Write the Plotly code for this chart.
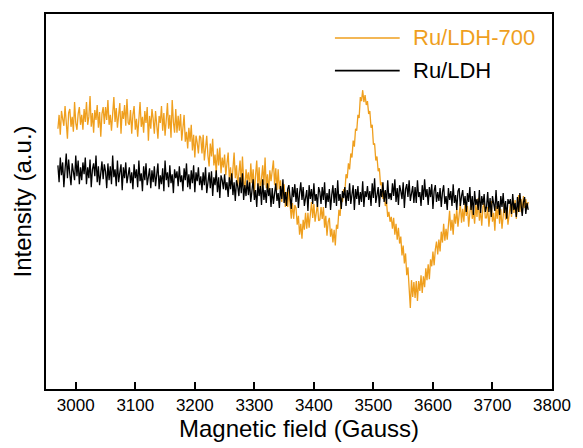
import plotly.graph_objects as go

# Field grid (Gauss): 396 samples, 2 G apart, starting at 2970 G
field_start = 2970
field_step = 2

# EPR intensity, arbitrary units (one row = 40 G)
ru_ldh_700 = [
    263, 277, 257, 281, 273, 266, 286, 268, 253, 279, 283, 265, 275, 260, 290, 269, 262, 278, 285, 267,
    277, 262, 283, 270, 290, 267, 275, 296, 265, 279, 259, 282, 272, 287, 264, 280, 255, 278, 285, 268,
    285, 272, 292, 267, 277, 261, 282, 295, 270, 284, 264, 278, 289, 258, 281, 273, 287, 266, 293, 269,
    267, 282, 258, 277, 286, 262, 273, 255, 279, 290, 265, 275, 259, 281, 269, 285, 251, 276, 263, 283,
    273, 258, 281, 265, 253, 276, 269, 286, 261, 279, 256, 272, 289, 263, 277, 254, 292, 270, 259, 283,
    259, 276, 261, 278, 251, 264, 277, 250, 260, 243, 264, 250, 267, 241, 257, 234, 256, 249, 238, 256,
    254, 238, 257, 231, 247, 256, 236, 225, 248, 235, 253, 226, 237, 218, 243, 226, 244, 218, 234, 224,
    237, 216, 228, 239, 211, 224, 206, 230, 239, 213, 226, 205, 218, 231, 207, 235, 211, 200, 222, 211,
    219, 201, 228, 208, 222, 196, 216, 231, 205, 224, 199, 214, 226, 206, 234, 203, 217, 198, 221, 210,
    223, 231, 206, 223, 201, 222, 202, 211, 189, 203, 207, 184, 199, 184, 201, 182, 172, 188, 172, 186,
    183, 166, 175, 156, 167, 152, 171, 161, 178, 162, 178, 163, 179, 189, 173, 187, 169, 179, 187, 170,
    171, 184, 172, 184, 163, 175, 155, 169, 173, 154, 162, 148, 161, 145, 166, 162, 181, 175, 193, 189,
    202, 199, 217, 213, 228, 222, 238, 234, 251, 245, 263, 261, 277, 274, 295, 291, 302, 290, 297, 287,
    291, 278, 281, 264, 267, 247, 248, 231, 235, 220, 223, 206, 209, 192, 200, 185, 189, 174, 179, 169,
    174, 162, 173, 156, 167, 151, 163, 147, 154, 135, 145, 127, 137, 115, 123, 102, 82, 110, 93, 108,
    92, 109, 89, 109, 99, 115, 97, 114, 103, 122, 110, 126, 111, 131, 124, 139, 125, 141, 149, 136,
    151, 139, 159, 148, 167, 150, 162, 151, 172, 180, 160, 171, 156, 177, 167, 182, 164, 178, 188, 168,
    182, 169, 189, 175, 185, 164, 183, 191, 172, 180, 167, 187, 174, 193, 170, 181, 165, 184, 188, 173,
    173, 184, 164, 181, 190, 169, 178, 160, 185, 172, 187, 167, 182, 162, 179, 188, 171, 184, 166, 180,
    187, 174, 193, 178, 191, 172, 187, 196, 179, 192, 178, 195, 183, 192, 182, 189,
]

ru_ldh = [
    226, 209, 234, 216, 229, 204, 222, 238, 213, 232, 217, 206, 228, 221, 211, 236, 215, 231, 207, 224,
    211, 229, 217, 234, 207, 224, 213, 232, 204, 222, 228, 215, 236, 209, 225, 206, 221, 230, 212, 227,
    220, 203, 228, 211, 225, 207, 236, 214, 222, 205, 231, 209, 219, 227, 201, 224, 213, 229, 208, 218,
    224, 208, 219, 202, 227, 213, 222, 204, 231, 210, 218, 200, 225, 211, 228, 206, 216, 223, 203, 221,
    209, 225, 205, 220, 228, 202, 216, 207, 223, 200, 231, 211, 219, 204, 226, 208, 217, 198, 222, 213,
    220, 205, 225, 209, 216, 200, 223, 211, 228, 204, 217, 202, 221, 208, 226, 199, 219, 210, 224, 206,
    215, 201, 219, 206, 224, 198, 212, 219, 203, 220, 195, 214, 206, 221, 199, 214, 193, 216, 211, 202,
    217, 201, 209, 194, 214, 202, 218, 196, 209, 190, 211, 205, 195, 214, 198, 218, 191, 206, 195, 211,
    196, 209, 189, 204, 212, 191, 201, 184, 208, 195, 205, 186, 212, 191, 201, 188, 208, 195, 203, 184,
    203, 187, 200, 208, 190, 198, 183, 205, 192, 212, 188, 199, 185, 202, 206, 191, 182, 204, 194, 207,
    189, 203, 183, 198, 209, 191, 204, 185, 196, 201, 180, 206, 192, 202, 187, 208, 190, 197, 184, 204,
    199, 187, 204, 191, 209, 183, 198, 189, 202, 181, 196, 206, 188, 203, 185, 211, 190, 197, 182, 200,
    193, 204, 185, 201, 190, 208, 187, 198, 206, 181, 202, 192, 205, 186, 199, 189, 210, 184, 200, 194,
    205, 191, 200, 185, 208, 193, 213, 188, 199, 204, 184, 202, 194, 209, 189, 201, 187, 211, 192, 198,
    191, 208, 195, 212, 189, 203, 186, 206, 200, 192, 209, 183, 202, 207, 194, 211, 190, 199, 205, 188,
    204, 188, 211, 194, 199, 185, 206, 191, 212, 194, 202, 186, 204, 194, 207, 182, 200, 206, 189, 199,
    190, 203, 184, 199, 206, 187, 195, 181, 203, 191, 200, 185, 207, 188, 196, 181, 200, 203, 185, 195,
    201, 186, 195, 179, 198, 189, 204, 181, 195, 176, 200, 186, 192, 181, 201, 178, 195, 186, 197, 179,
    184, 199, 179, 193, 174, 195, 189, 180, 201, 182, 190, 176, 195, 184, 198, 178, 190, 172, 192, 187,
    192, 177, 197, 181, 188, 174, 194, 179, 198, 183, 175, 189, 194, 177, 188, 181,
]

series_names = ["Ru/LDH-700", "Ru/LDH"]
series_colors = ["#EF9F1E", "#000000"]
x_ticks = [3000, 3100, 3200, 3300, 3400, 3500, 3600, 3700, 3800]

field = [field_start + field_step * i for i in range(len(ru_ldh_700))]

fig = go.Figure()
for name, values, color in zip(series_names, [ru_ldh_700, ru_ldh], series_colors):
    fig.add_trace(go.Scatter(
        x=field, y=values, mode="lines", name=name,
        line=dict(color=color, width=1.3), showlegend=False,
    ))

# Legend drawn inside the frame, top right
legend_y = [0.936, 0.849]
for name, color, ly in zip(series_names, series_colors, legend_y):
    fig.add_shape(type="line", xref="paper", yref="paper",
                  x0=0.571, x1=0.699, y0=ly, y1=ly,
                  line=dict(color=color, width=1.6))
    fig.add_annotation(xref="paper", yref="paper", x=0.722, y=ly,
                       text=name, showarrow=False, xanchor="left",
                       yanchor="middle",
                       font=dict(family="Liberation Sans, Arial", size=22,
                                 color=color))

fig.update_layout(
    width=583, height=448,
    margin=dict(l=46, r=27, t=13, b=56),
    paper_bgcolor="white", plot_bgcolor="white",
    font=dict(family="Liberation Sans, Arial", color="black"),
)
fig.update_xaxes(
    range=[2950, 3800], tickvals=x_ticks, ticks="inside", ticklen=7,
    tickwidth=1.5, tickcolor="black", showline=True, linewidth=2,
    linecolor="black", mirror=True, showgrid=False, zeroline=False,
    tickfont=dict(size=17),
    title=dict(text="Magnetic field (Gauss)", font=dict(size=24), standoff=4),
)
fig.update_yaxes(
    range=[0, 379], showticklabels=False, ticks="", showline=True,
    linewidth=2, linecolor="black", mirror=True, showgrid=False,
    zeroline=False,
    title=dict(text="Intensity (a.u.)", font=dict(size=24), standoff=6),
)

fig.write_html("out.html")
